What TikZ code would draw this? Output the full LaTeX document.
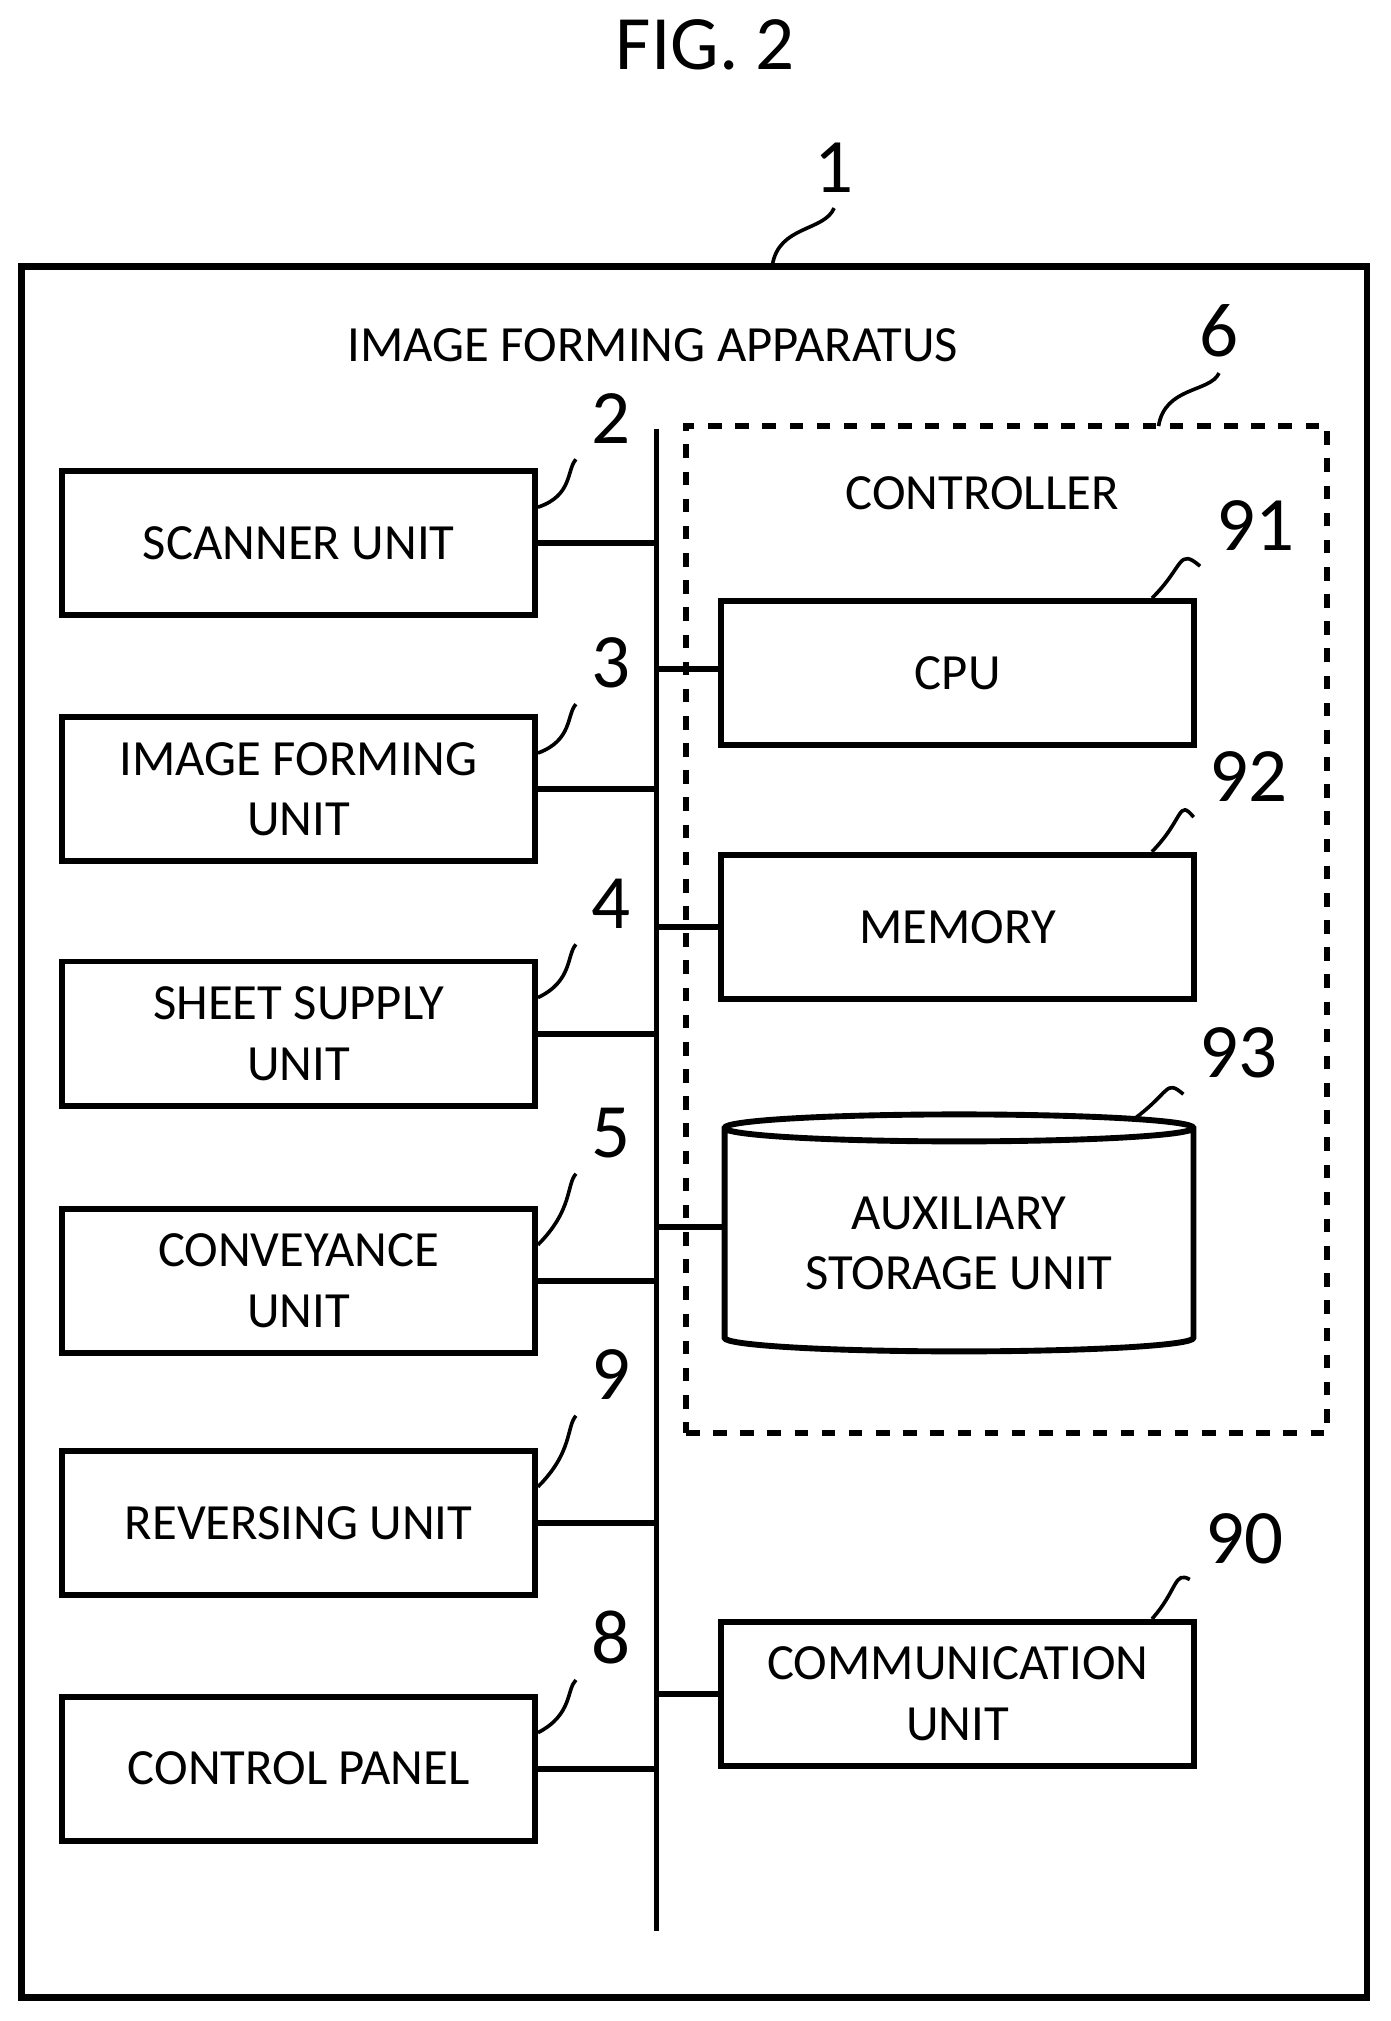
\documentclass[tikz,border=0pt]{standalone}
\usepackage{fontspec}
\setmainfont{Carlito}
\usetikzlibrary{shapes.geometric}
\begin{document}
\begin{tikzpicture}[x=0.01cm,y=-0.01cm,font=\fontsize{11.2}{13.4}\selectfont,
    unit box/.style={draw,line width=1.3pt,minimum width=3.67cm,minimum height=1.12cm,align=center},
    ref num/.style={font=\fontsize{17}{20}\selectfont},
    lead/.style={line width=0.8pt}]
  \useasboundingbox (0,0) rectangle (1080,1570);
  \node (fig) at (548,35) {\fontsize{17}{20}\selectfont FIG. 2};
  % outer frame
  \draw[line width=1.5pt] (17,207) rectangle (1062,1552);
  \node (n1) [ref num] at (648,130) {1};
  \coordinate (c1) at (600,206);
  \draw[lead] (c1) .. controls (605,175) and (640,180) .. (n1.south);
  \node (title) at (507,268) {IMAGE FORMING APPARATUS};
  % bus
  \coordinate (bustop) at (510,333);
  \coordinate (busbot) at (510,1500);
  \draw[line width=1.3pt] (bustop) -- (busbot);
  % left units
  \foreach \name/\y/\txt/\num/\ny in {scanner/422/SCANNER UNIT/2/325,
      imgform/613/IMAGE FORMING\\UNIT/3/515,
      supply/803/SHEET SUPPLY\\UNIT/4/702,
      convey/995/CONVEYANCE\\UNIT/5/880,
      revers/1183/REVERSING UNIT/9/1068,
      panel/1374/CONTROL PANEL/8/1272}{
    \node (\name) [unit box] at (232,\y) {\txt};
    \node (\name num) [ref num] at (475,\ny) {\num};
    \draw[line width=1.3pt] (\name.east) -- (510,\y);
    \draw[lead] ([yshift=0.28cm]\name.east) .. controls (445,\ny+60) and (440,\ny+40) .. (\name num.south west);
  }
  % controller
  \node (ctrl) [draw,dashed,line width=1.3pt,minimum width=4.98cm,minimum height=7.82cm] at (782,722) {};
  \node (n6) [ref num] at (947,257) {6};
  \draw[lead] (900,331) .. controls (905,300) and (940,305) .. (n6.south);
  \node (ctrltxt) at (763,383) {CONTROLLER};
  \node (cpu) [unit box] at (744,523) {CPU};
  \node (memory) [unit box] at (744,720) {MEMORY};
  \node (aux) [draw,line width=1.3pt,cylinder,shape border rotate=90,aspect=0.08,
    minimum width=3.64cm,minimum height=1.84cm,align=center] at (745,966) {AUXILIARY\\STORAGE UNIT};
  \node (comm) [unit box] at (744,1316) {COMMUNICATION\\UNIT};
  \foreach \name/\num/\nx/\ny/\y in {cpu/91/975/408/520, memory/92/970/603/720, aux/93/962/818/953, comm/90/967/1195/1316}{
    \node (\name num) [ref num] at (\nx,\ny) {\num};
    \draw[line width=1.3pt] (510,\y) -- (\name.west |- 0,\y);
  }
  \draw[lead] ([xshift=-0.35cm]cpu.north east) .. controls (920,440) and (915,425) .. (cpunum.south west);
  \draw[lead] ([xshift=-0.35cm]memory.north east) .. controls (920,636) and (915,620) .. (memorynum.south west);
  \draw[lead] (880,870) .. controls (910,848) and (905,838) .. (auxnum.south west);
  \draw[lead] ([xshift=-0.35cm]comm.north east) .. controls (915,1235) and (912,1220) .. (commnum.south west);
\end{tikzpicture}
\end{document}
